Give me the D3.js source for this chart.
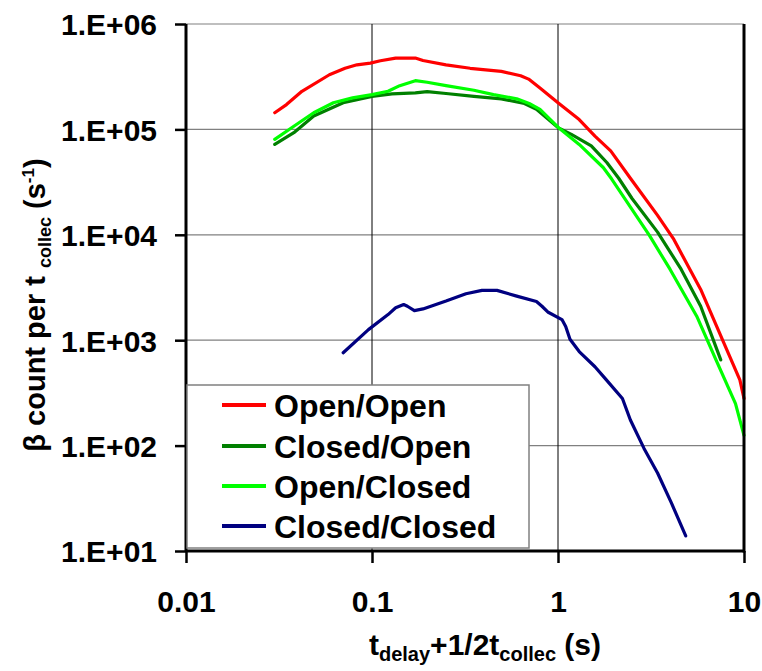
<!DOCTYPE html>
<html>
<head>
<meta charset="utf-8">
<script src="https://cdn.jsdelivr.net/npm/d3@7"></script>
<style>
  body { margin: 0; background: #fff; }
  svg text { font-family: "Liberation Sans", Arial, sans-serif; font-weight: bold; fill: #000; }
</style>
</head>
<body>
<svg id="chart" width="762" height="671"></svg>
<script>
// Beta count rate versus delay time, four valve configurations
const seriesNames = ["Open/Open", "Closed/Open", "Open/Closed", "Closed/Closed"];
const seriesColors = ["#ff0000", "#008000", "#00ff00", "#000080"];

const openOpenX = [0.030, 0.0347, 0.042, 0.059, 0.0716, 0.083, 0.098, 0.111, 0.134, 0.171, 0.188, 0.25, 0.337, 0.496, 0.63, 0.695, 0.80, 1.0, 1.30, 1.58, 1.92, 2.45, 3.43, 4.17, 5.85, 7.8, 9.5, 10];
const openOpenY = [1.44e5, 1.72e5, 2.3e5, 3.3e5, 3.8e5, 4.1e5, 4.25e5, 4.48e5, 4.75e5, 4.75e5, 4.5e5, 4.1e5, 3.8e5, 3.55e5, 3.23e5, 3.0e5, 2.47e5, 1.79e5, 1.24e5, 8.65e4, 6.25e4, 3.44e4, 1.53e4, 9.2e3, 3.03e3, 9.4e2, 4.2e2, 2.8e2];

const closedOpenX = [0.030, 0.038, 0.0486, 0.070, 0.1, 0.128, 0.171, 0.198, 0.25, 0.353, 0.496, 0.66, 0.766, 1.0, 1.18, 1.51, 1.83, 2.12, 2.5, 3.43, 4.59, 5.85, 7.5];
const closedOpenY = [7.2e4, 9.3e4, 1.34e5, 1.79e5, 2.06e5, 2.17e5, 2.22e5, 2.28e5, 2.19e5, 2.06e5, 1.95e5, 1.76e5, 1.55e5, 1.04e5, 8.97e4, 6.97e4, 4.85e4, 3.44e4, 2.21e4, 1.06e4, 4.72e3, 2.1e3, 6.5e2];

const openClosedX = [0.030, 0.038, 0.0486, 0.062, 0.0786, 0.1, 0.122, 0.141, 0.171, 0.198, 0.25, 0.353, 0.45, 0.6, 0.7, 0.8, 1.0, 1.3, 1.75, 1.94, 3.1, 4.0, 5.57, 7.1, 9.0, 10];
const openClosedY = [8.05e4, 1.07e5, 1.44e5, 1.79e5, 1.99e5, 2.14e5, 2.3e5, 2.6e5, 2.9e5, 2.8e5, 2.6e5, 2.35e5, 2.14e5, 1.95e5, 1.76e5, 1.55e5, 1.05e5, 7.2e4, 4.35e4, 3.4e4, 9.86e3, 4.72e3, 1.69e3, 6.4e2, 2.5e2, 1.25e2];

const closedClosedX = [0.070, 0.0957, 0.122, 0.134, 0.148, 0.155, 0.169, 0.188, 0.25, 0.32, 0.39, 0.47, 0.60, 0.766, 0.82, 0.886, 1.05, 1.10, 1.16, 1.30, 1.58, 1.80, 2.22, 2.45, 2.9, 3.43, 4.07, 4.86];
const closedClosedY = [7.6e2, 1.26e3, 1.75e3, 2.03e3, 2.18e3, 2.1e3, 1.91e3, 1.98e3, 2.35e3, 2.76e3, 2.97e3, 2.97e3, 2.62e3, 2.33e3, 2.1e3, 1.84e3, 1.57e3, 1.35e3, 1.02e3, 7.8e2, 5.6e2, 4.3e2, 2.8e2, 1.75e2, 94, 55, 28.6, 13.9];

const xTickValues = [0.01, 0.1, 1, 10];
const xTickLabels = ["0.01", "0.1", "1", "10"];
const yTickValues = [1e1, 1e2, 1e3, 1e4, 1e5, 1e6];
const yTickLabels = ["1.E+01", "1.E+02", "1.E+03", "1.E+04", "1.E+05", "1.E+06"];

const seriesX = [openOpenX, closedOpenX, openClosedX, closedClosedX];
const seriesY = [openOpenY, closedOpenY, openClosedY, closedClosedY];

const svg = d3.select("#chart");
const plot = { left: 186, right: 744, top: 24, bottom: 551 };

const x = d3.scaleLog().domain([0.01, 10]).range([plot.left, plot.right]);
const y = d3.scaleLog().domain([10, 1e6]).range([plot.bottom, plot.top]);

// horizontal grid (grey) at every decade
svg.append("g").selectAll("line").data(yTickValues).join("line")
  .attr("x1", plot.left).attr("x2", plot.right)
  .attr("y1", d => y(d)).attr("y2", d => y(d))
  .attr("stroke", "#808080").attr("stroke-width", 1.2);

// vertical grid (black) at inner decades
svg.append("g").selectAll("line").data([0.1, 1]).join("line")
  .attr("x1", d => x(d)).attr("x2", d => x(d))
  .attr("y1", plot.top).attr("y2", plot.bottom)
  .attr("stroke", "#000").attr("stroke-width", 1);

// data lines
const line = d3.line().x(d => x(d[0])).y(d => y(d[1]));
seriesNames.forEach((name, i) => {
  const pts = seriesX[i].map((v, j) => [v, seriesY[i][j]]);
  svg.append("path").datum(pts)
    .attr("d", line)
    .attr("fill", "none")
    .attr("stroke", seriesColors[i])
    .attr("stroke-width", 3.2)
    .attr("stroke-linejoin", "round")
    .attr("stroke-linecap", "round");
});

// axes
const yAxis = d3.axisLeft(y).tickValues(yTickValues).tickSize(11)
  .tickFormat((d, i) => yTickLabels[i]);
const gy = svg.append("g").attr("transform", `translate(${plot.left},0)`).call(yAxis);
gy.select(".domain").attr("stroke", "#000").attr("stroke-width", 3).attr("d", `M0,${plot.top}V${plot.bottom}`);
gy.selectAll(".tick line").attr("stroke", "#000").attr("stroke-width", 2.5);
gy.selectAll(".tick text").attr("x", -29).attr("dy", "0.36em")
  .style("font-size", "30px").style("font-family", "'Liberation Sans', Arial, sans-serif").style("font-weight", "bold");

const xAxis = d3.axisBottom(x).tickValues(xTickValues).tickSize(12)
  .tickFormat((d, i) => xTickLabels[i]);
const gx = svg.append("g").attr("transform", `translate(0,${plot.bottom})`).call(xAxis);
gx.select(".domain").attr("stroke", "#000").attr("stroke-width", 3).attr("d", `M${plot.left},0H${plot.right}`);
gx.selectAll(".tick line").attr("stroke", "#000").attr("stroke-width", 2.5);
gx.selectAll(".tick text").attr("y", 61).attr("dy", "0")
  .style("font-size", "30px").style("font-family", "'Liberation Sans', Arial, sans-serif").style("font-weight", "bold");

// right frame edge
svg.append("line")
  .attr("x1", plot.right).attr("x2", plot.right)
  .attr("y1", plot.top).attr("y2", plot.bottom + 1.5)
  .attr("stroke", "#000").attr("stroke-width", 3);

// legend
const lg = svg.append("g");
lg.append("rect")
  .attr("x", 187).attr("y", 385).attr("width", 342).attr("height", 163)
  .attr("fill", "#fff").attr("stroke", "#808080").attr("stroke-width", 1.5);
const rowY = [405, 446, 486, 526];
seriesNames.forEach((name, i) => {
  lg.append("line")
    .attr("x1", 222).attr("x2", 266)
    .attr("y1", rowY[i]).attr("y2", rowY[i])
    .attr("stroke", seriesColors[i]).attr("stroke-width", 4);
  lg.append("text")
    .attr("x", 274).attr("y", rowY[i]).attr("dy", "0.36em")
    .style("font-size", "32px")
    .text(name);
});

// axis titles
const xt = svg.append("text").attr("x", 485).attr("y", 655)
  .attr("text-anchor", "middle").style("font-size", "30px");
xt.append("tspan").text("t");
xt.append("tspan").attr("dy", 6).style("font-size", "20px").text("delay");
xt.append("tspan").attr("dy", -6).text("+1/2t");
xt.append("tspan").attr("dy", 6).style("font-size", "20px").text("collec");
xt.append("tspan").attr("dy", -6).text(" (s)");

const yt = svg.append("text")
  .attr("transform", "translate(45,305) rotate(-90)")
  .attr("text-anchor", "middle").style("font-size", "29px");
yt.append("tspan").text("β count per t ");
yt.append("tspan").attr("dy", 6).style("font-size", "18px").text("collec");
yt.append("tspan").attr("dy", -6).text(" (s");
yt.append("tspan").attr("dy", -11).style("font-size", "17px").text("-1");
yt.append("tspan").attr("dy", 11).text(")");
</script>
</body>
</html>
